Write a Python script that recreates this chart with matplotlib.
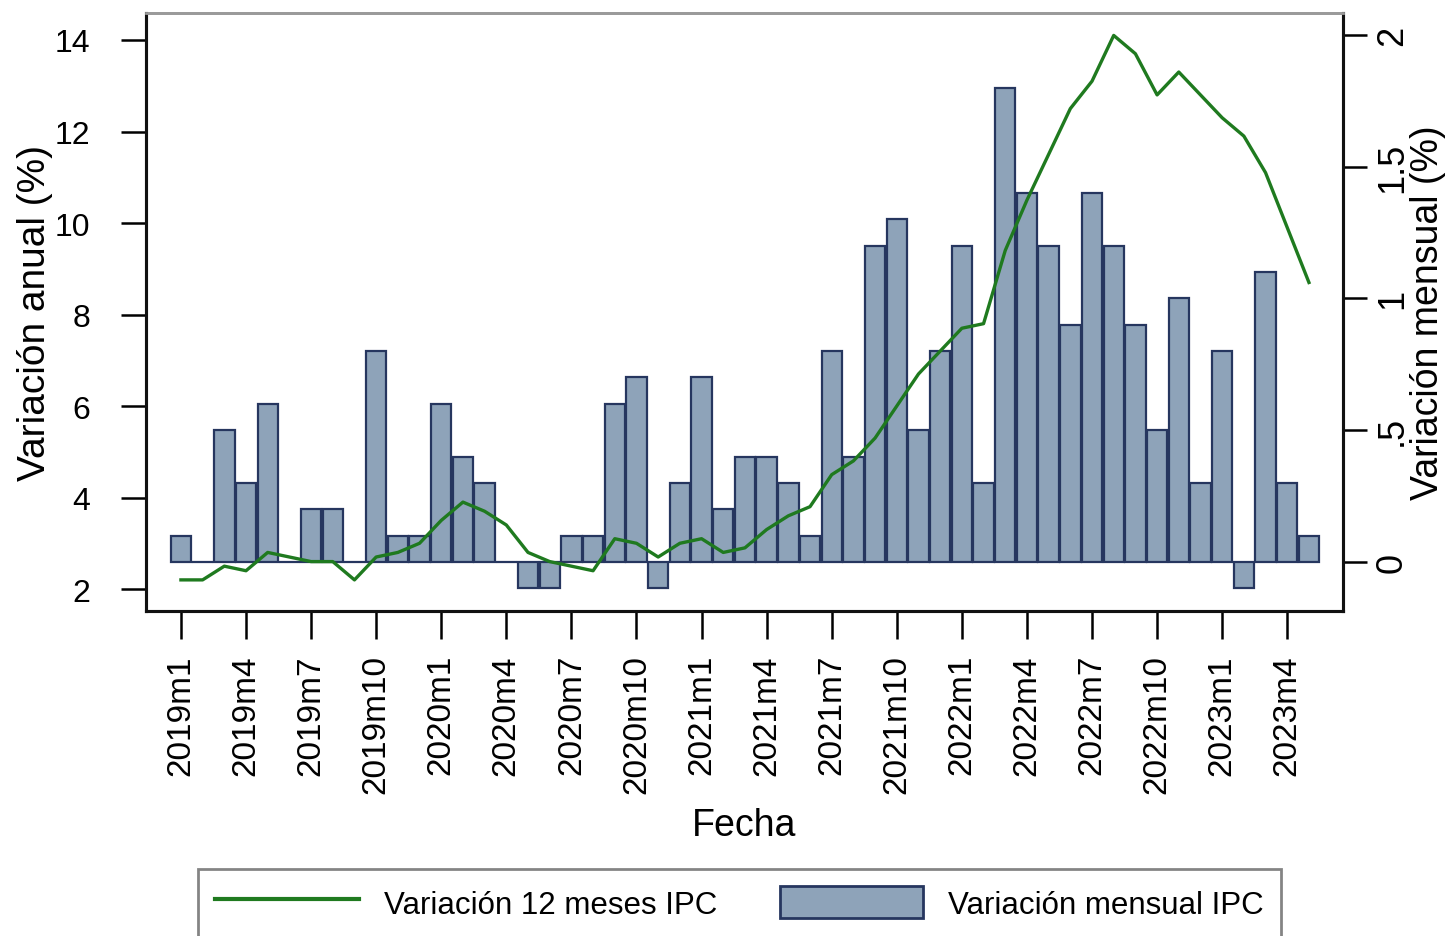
import matplotlib
matplotlib.use("Agg")
import matplotlib.pyplot as plt
import numpy as np
from matplotlib.patches import Patch
from matplotlib.lines import Line2D

plt.rcParams["font.family"] = ["Liberation Sans", "DejaVu Sans"]

# monthly CPI change (%), 2019m1 .. 2023m5
mensual = [0.1, 0.0, 0.5, 0.3, 0.6, 0.0, 0.2, 0.2, 0.0, 0.8, 0.1, 0.1,
           0.6, 0.4, 0.3, 0.0, -0.1, -0.1, 0.1, 0.1, 0.6, 0.7, -0.1, 0.3,
           0.7, 0.2, 0.4, 0.4, 0.3, 0.1, 0.8, 0.4, 1.2, 1.3, 0.5, 0.8,
           1.2, 0.3, 1.8, 1.4, 1.2, 0.9, 1.4, 1.2, 0.9, 0.5, 1.0, 0.3,
           0.8, -0.1, 1.1, 0.3, 0.1]
# 12-month CPI change (%)
anual = [2.2, 2.2, 2.5, 2.4, 2.8, 2.7, 2.6, 2.6, 2.2, 2.7, 2.8, 3.0,
         3.5, 3.9, 3.7, 3.4, 2.8, 2.6, 2.5, 2.4, 3.1, 3.0, 2.7, 3.0,
         3.1, 2.8, 2.9, 3.3, 3.6, 3.8, 4.5, 4.8, 5.3, 6.0, 6.7, 7.2,
         7.7, 7.8, 9.4, 10.5, 11.5, 12.5, 13.1, 14.1, 13.7, 12.8, 13.3, 12.8,
         12.3, 11.9, 11.1, 9.9, 8.7]
tick_labels = ["2019m1", "2019m4", "2019m7", "2019m10", "2020m1", "2020m4",
               "2020m7", "2020m10", "2021m1", "2021m4", "2021m7", "2021m10",
               "2022m1", "2022m4", "2022m7", "2022m10", "2023m1", "2023m4"]

W, H = 1450, 937
fig = plt.figure(figsize=(W / 100, H / 100), dpi=100)
ax = fig.add_axes([146 / W, 1 - 612 / H, (1343 - 146) / W, (612 - 14) / H])
ax2 = ax.twinx()  # line (left scale) drawn above the bars

x = np.arange(len(mensual))
bar_face = "#8ea3b9"
bar_edge = "#26365f"
line_col = "#1f7a1f"

# bars: monthly change, right-hand scale
ax.bar(x, mensual, width=0.94, color=bar_face, edgecolor=bar_edge, linewidth=1.6)
ax.set_ylim(-0.186, 2.083)
ax.set_xlim(-1.61, 53.57)
ax.yaxis.tick_right()
ax.yaxis.set_label_position("right")
ax.set_yticks([0, 0.5, 1, 1.5, 2])
ax.set_yticklabels(["0", ".5", "1", "1.5", "2"], rotation=90, va="center")
ax.tick_params(axis="y", length=17, width=1.8, pad=6, labelsize=26)
ax.set_ylabel("Variación mensual (%)", fontsize=27, labelpad=0)

ax.set_xticks(np.arange(0, len(mensual), 3))
ax.set_xticklabels(tick_labels, rotation=90, fontsize=24)
ax.tick_params(axis="x", length=20, width=1.8, pad=11)
ax.set_xlabel("Fecha", fontsize=27, labelpad=10)

# line: 12-month change, left-hand scale
ax2.plot(x, anual, color=line_col, linewidth=2.4)
ax2.set_ylim(1.52, 14.59)
ax2.yaxis.tick_left()
ax2.yaxis.set_label_position("left")
ax2.set_yticks(np.arange(2, 15, 2))
ax2.tick_params(axis="y", length=18, width=1.8, pad=22, labelsize=23)
ax2.set_ylabel("Variación anual (%)", fontsize=28, labelpad=1)

for a in (ax, ax2):
    for side in ("left", "bottom", "right"):
        a.spines[side].set_linewidth(2.2)
        a.spines[side].set_color("#111111")
    a.spines["top"].set_color("#9a9a9a")
    a.spines["top"].set_linewidth(2)

handles = [Line2D([], [], color=line_col, linewidth=3),
           Patch(facecolor=bar_face, edgecolor=bar_edge, linewidth=2)]
leg = fig.legend(handles, ["Variación 12 meses IPC", "Variación mensual IPC"],
                 loc="upper left", bbox_to_anchor=(198 / W, 1 - 870 / H),
                 ncol=2, fontsize=22.5, frameon=True, fancybox=False,
                 handlelength=4.6, handleheight=1.2, handletextpad=0.8,
                 columnspacing=2.0, borderpad=0.55, borderaxespad=0)
leg.get_frame().set_edgecolor("#666666")
leg.get_frame().set_linewidth(2)

fig.savefig("out.png", dpi=100)
